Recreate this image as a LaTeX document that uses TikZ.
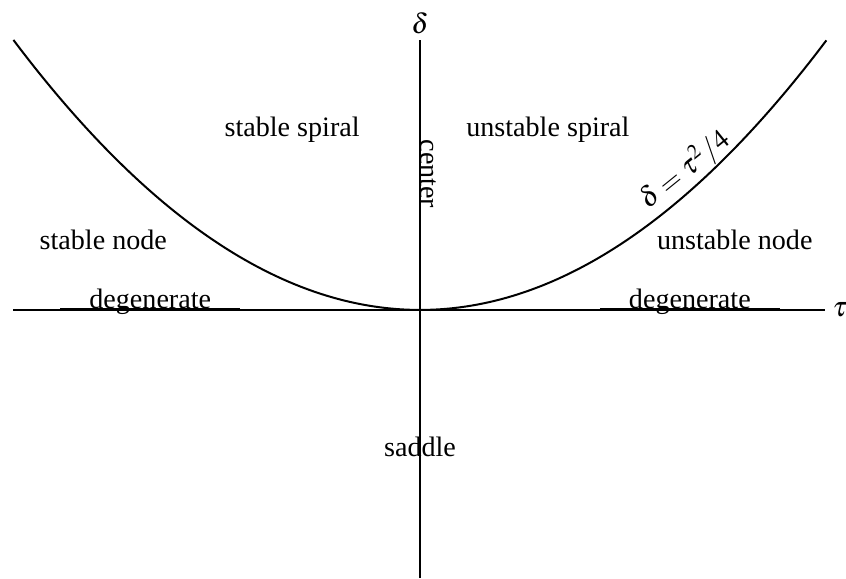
\documentclass[tikz,border=0pt]{standalone}
\usepackage{mathptmx}
\usepackage{fontspec}
\setmainfont{Liberation Serif}
\begin{document}
\begin{tikzpicture}[x=3.05cm, y=4.05cm, every node/.style={font=\fontsize{12}{14}\selectfont},
    axis/.style={line width=0.85pt}, degline/.style={line width=1.3pt}]
    \useasboundingbox (-2.066,-0.993) rectangle (2.095,1.148);

    % Ejes tau (horizontal) y delta (vertical)
    \draw[axis] (-2,0) -- (1.99,0) node[right, inner sep=3pt] (tau) {$\tau$};
    \draw[axis] (0,-0.993) -- (0,1) node[above, inner sep=2pt] (delta) {$\delta$};

    % Parabola delta = tau^2/4
    \draw[axis] plot[domain=-2:2, samples=120, smooth] (\x, {\x*\x/4});
    \node[rotate=39] (curva) at (1.302, 0.519) {$\delta=\tau^2/4$};

    % Regiones
    \node (ssp) at (-0.629, 0.667) {stable spiral};
    \node (usp) at (0.629, 0.667) {unstable spiral};
    \node (sno) at (-1.558, 0.259) {stable node};
    \node (uno) at (1.548, 0.259) {unstable node};
    \node[rotate=-90, anchor=base, inner sep=0pt] (cen) at (0.002, 0.504) {center};
    \node (sad) at (0, -0.507) {saddle};

    % Casos degenerados sobre el eje tau
    \draw[degline] (-1.77,0) -- (-0.885,0);
    \draw[degline] (0.885,0) -- (1.77,0);
    \node[anchor=base, inner sep=0pt] (degL) at (-1.327, 0.006) {degenerate};
    \node[anchor=base, inner sep=0pt] (degR) at (1.327, 0.006) {degenerate};
\end{tikzpicture}
\end{document}
